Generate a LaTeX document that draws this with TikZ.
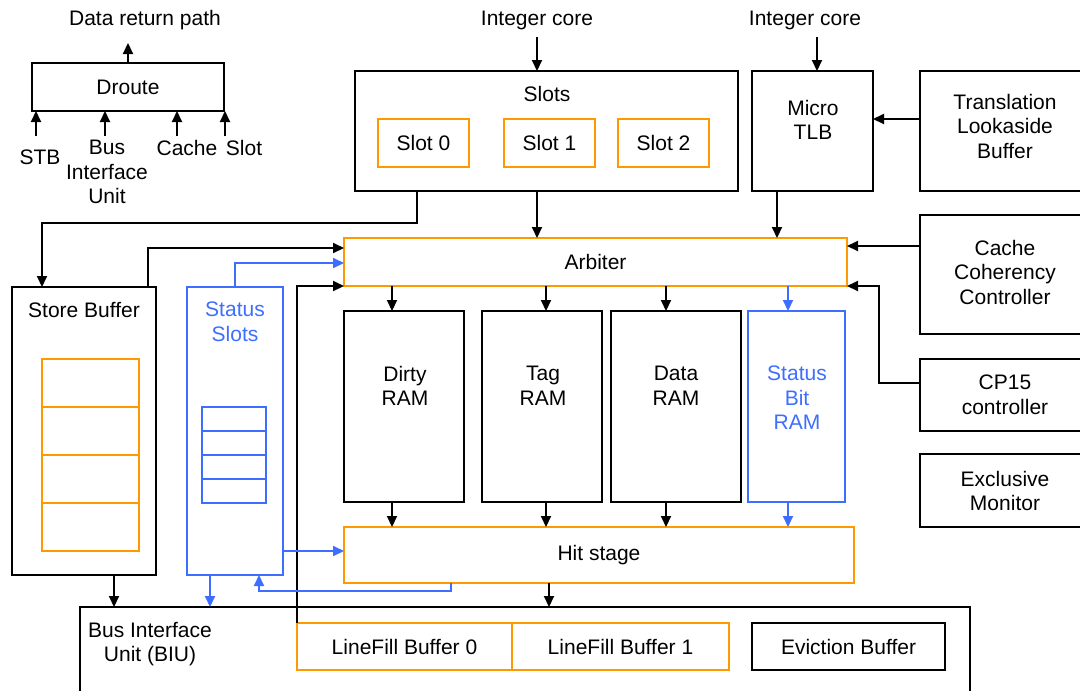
\documentclass[tikz,border=0pt]{standalone}
\usepackage{fontspec}
\setmainfont{Liberation Sans}
\usetikzlibrary{arrows.meta}
\definecolor{cacheorange}{RGB}{255,153,0}
\definecolor{statusblue}{RGB}{61,110,255}

\begin{document}
\begin{tikzpicture}[x=1pt,y=-1pt,line width=2.1pt,
  font=\fontsize{21}{24.5}\selectfont,
  box/.style={draw,rectangle,anchor=north west,inner sep=0pt,outer sep=0pt,align=center},
  obox/.style={box,draw=cacheorange},
  bbox/.style={box,draw=statusblue,text=statusblue},
  lbl/.style={inner sep=0pt,align=center},
  blbl/.style={lbl,text=statusblue},
  arr/.style={-{Triangle[length=11pt,width=10pt]}},
  barr/.style={draw=statusblue,-{Triangle[length=11pt,width=10pt,color=statusblue]}}]

\clip (0,0) rectangle (1080,691);

% ---------- Droute ----------
\node[box,minimum width=192pt,minimum height=48pt] (droute) at (32,63) {Droute};
\node[lbl] (drp) at (145,20) {Data return path};
\coordinate (drpx) at (128,43);
\draw[arr] (drpx |- droute.north) -- (drpx);
\coordinate (inSTB) at (36,136);
\coordinate (inBIU) at (105,136);
\coordinate (inCache) at (177,136);
\coordinate (inSlot) at (225,136);
\foreach \c in {inSTB,inBIU,inCache,inSlot}
  \draw[arr] (\c) -- (\c |- droute.south);
\node[lbl] (lSTB) at (40,157) {STB};
\node[lbl] (lBIU) at (107,172) {Bus\\Interface\\Unit};
\node[lbl] (lCache) at (187,148) {Cache};
\node[lbl] (lSlot) at (244,148) {Slot};

% ---------- Slots ----------
\node[box,minimum width=383pt,minimum height=120pt] (slots) at (355,71) {};
\node[lbl] (slotsT) at (547,94) {Slots};
\node[obox,minimum width=91pt,minimum height=48pt] (slot0) at (378,119) {Slot 0};
\node[obox,minimum width=91pt,minimum height=48pt] (slot1) at (504,119) {Slot 1};
\node[obox,minimum width=91pt,minimum height=48pt] (slot2) at (618,119) {Slot 2};
\node[lbl] (ic1) at (537,20) {Integer core};

% ---------- Micro TLB and right-hand blocks ----------
\node[box,minimum width=121pt,minimum height=120pt] (mtlb) at (752,71) {};
\node[lbl] at (813,120) {Micro\\TLB};
\node[lbl] (ic2) at (805,20) {Integer core};
\node[box,minimum width=170pt,minimum height=120pt] (tlb) at (920,71) {};
\node[lbl] at (1005,126) {Translation\\Lookaside\\Buffer};
\node[box,minimum width=170pt,minimum height=119pt] (ccc) at (920,215) {};
\node[lbl] at (1005,272) {Cache\\Coherency\\Controller};
\node[box,minimum width=170pt,minimum height=72pt] (cp15) at (920,359) {};
\node[lbl] at (1005,395) {CP15\\controller};
\node[box,minimum width=170pt,minimum height=73pt] (excl) at (920,454) {};
\node[lbl] at (1005,491) {Exclusive\\Monitor};

% ---------- Arbiter ----------
\node[obox,minimum width=503pt,minimum height=48pt] (arb) at (344,238) {Arbiter};

% ---------- Store buffer ----------
\node[box,minimum width=144pt,minimum height=288pt] (stb) at (12,287) {};
\node[lbl] at (84,310) {Store Buffer};
\foreach \i in {0,1,2,3}
  \node[obox,minimum width=97pt,minimum height=48pt] (sbc\i) at (42,359+48*\i) {};

% ---------- Status slots ----------
\node[bbox,minimum width=96pt,minimum height=288pt] (sts) at (187,287) {};
\node[blbl] at (235,322) {Status\\Slots};
\foreach \i in {0,1,2,3}
  \node[bbox,minimum width=64pt,minimum height=24pt] (ssc\i) at (202,407+24*\i) {};

% ---------- RAMs ----------
\node[box,minimum width=120pt,minimum height=191pt] (dirty) at (344,311) {};
\node[lbl] at (405,386) {Dirty\\RAM};
\node[box,minimum width=120pt,minimum height=191pt] (tag) at (482,311) {};
\node[lbl] at (543,386) {Tag\\RAM};
\node[box,minimum width=130pt,minimum height=191pt] (data) at (611,311) {};
\node[lbl] at (676,386) {Data\\RAM};
\node[bbox,minimum width=97pt,minimum height=191pt] (sbr) at (748,311) {};
\node[blbl] at (797,398) {Status\\Bit\\RAM};

% ---------- Hit stage ----------
\node[obox,minimum width=510pt,minimum height=56pt] (hit) at (344,527) {Hit stage};

% ---------- Bus interface unit ----------
\node[box,minimum width=890pt,minimum height=100pt] (biu) at (80,607) {};
\node[lbl] at (150,644) {Bus Interface\\Unit (BIU)};
\node[obox,minimum width=215pt,minimum height=47pt] (lfb0) at (297,623) {LineFill Buffer 0};
\node[obox,minimum width=217pt,minimum height=47pt] (lfb1) at (512,623) {LineFill Buffer 1};
\node[box,minimum width=193pt,minimum height=47pt] (evict) at (752,623) {Eviction Buffer};

% ---------- Connectors ----------
\draw[arr] (ic1.south |- 0,37) -- (ic1.south |- slots.north);
\draw[arr] (ic1.south |- slots.south) -- (ic1.south |- arb.north);
\coordinate (ic2x) at (817,37);
\draw[arr] (ic2x) -- (ic2x |- mtlb.north);
\coordinate (mtlbx) at (777,0);
\draw[arr] (mtlbx |- mtlb.south) -- (mtlbx |- arb.north);
\coordinate (tlby) at (0,119);
\draw[arr] (tlb.west |- tlby) -- (mtlb.east |- tlby);
\coordinate (ccy) at (0,246);
\draw[arr] (ccc.west |- ccy) -- (arb.east |- ccy);
\coordinate (cpy) at (0,383);
\coordinate (cpx) at (879,0);
\draw[arr] (cp15.west |- cpy) -- (cpx |- cpy) -- (cpx |- arb.south) -- (arb.south east);

% slots to store buffer
\coordinate (s2sx) at (417,0);
\coordinate (s2sy) at (0,223);
\coordinate (sbx) at (42,0);
\draw[arr] (s2sx |- slots.south) -- (s2sx |- s2sy) -- (sbx |- s2sy) -- (sbx |- stb.north);

% store buffer, status slots and linefill to arbiter
\coordinate (sbax) at (148,0);
\coordinate (sbay) at (0,248);
\draw[arr] (sbax |- stb.north) -- (sbax |- sbay) -- (arb.west |- sbay);
\coordinate (ssay) at (0,263);
\draw[barr] (sts.north) -- (sts.north |- ssay) -- (arb.west |- ssay);
\draw[arr] (lfb0.north west) -- (lfb0.north west |- arb.south) -- (arb.south west);

% arbiter to RAMs, RAMs to hit stage
\coordinate (r1) at (392,0);
\coordinate (r2) at (546,0);
\coordinate (r3) at (666,0);
\coordinate (r4) at (788,0);
\draw[arr] (r1 |- arb.south) -- (r1 |- dirty.north);
\draw[arr] (r2 |- arb.south) -- (r2 |- tag.north);
\draw[arr] (r3 |- arb.south) -- (r3 |- data.north);
\draw[barr] (r4 |- arb.south) -- (r4 |- sbr.north);
\draw[arr] (r1 |- dirty.south) -- (r1 |- hit.north);
\draw[arr] (r2 |- tag.south) -- (r2 |- hit.north);
\draw[arr] (r3 |- data.south) -- (r3 |- hit.north);
\draw[barr] (r4 |- sbr.south) -- (r4 |- hit.north);

% status slots and hit stage
\coordinate (sshy) at (0,551);
\draw[barr] (sts.east |- sshy) -- (hit.west |- sshy);
\coordinate (hbx) at (451,0);
\coordinate (hby) at (0,591);
\coordinate (ssux) at (259,0);
\draw[barr] (hbx |- hit.south) -- (hbx |- hby) -- (ssux |- hby) -- (ssux |- sts.south);

% into the bus interface unit
\coordinate (ssdx) at (210,0);
\draw[barr] (ssdx |- sts.south) -- (ssdx |- biu.north);
\coordinate (sbdx) at (114,0);
\draw[arr] (sbdx |- stb.south) -- (sbdx |- biu.north);
\coordinate (hdx) at (549,0);
\draw[arr] (hdx |- hit.south) -- (hdx |- biu.north);
\end{tikzpicture}
\end{document}
